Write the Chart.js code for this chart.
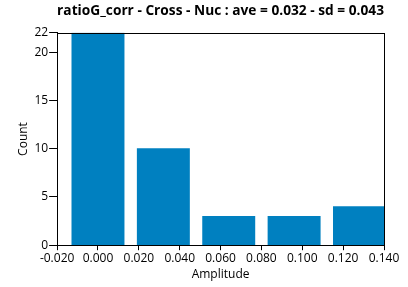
<!DOCTYPE html>
<html>
<head>
<meta charset="utf-8">
<script src="https://cdn.jsdelivr.net/npm/chart.js@4"></script>
<style>
    html, body { margin: 0; padding: 0; background: #fff; }
</style>
</head>
<body>
<canvas id="chart" width="408" height="287"></canvas>
<script>
const binCenters = [0.000, 0.032, 0.064, 0.096, 0.128],
    binWidth = 0.032,
    counts = [22, 10, 3, 3, 4],
    xTicks = [-0.020, 0.000, 0.020, 0.040, 0.060, 0.080, 0.100, 0.120, 0.140],
    yTicks = [0, 5, 10, 15, 20, 22];

const font = "'Open Sans', 'DejaVu Sans', sans-serif";

// box round the plot area (top and right sides too)
const frame = {
    id: "frame",
    afterDatasetsDraw(chart) {
        const { ctx, chartArea: a } = chart;
        ctx.save();
        ctx.strokeStyle = "#000";
        ctx.lineWidth = 1;
        ctx.strokeRect(Math.round(a.left) + 0.5, Math.round(a.top) + 0.5,
            Math.round(a.right - a.left), Math.round(a.bottom - a.top));
        ctx.restore();
    }
};

// bar width = 80% of a bin, measured on the x scale
function barWidth(ctx) {
    const s = ctx.chart.scales.x;
    if (!s) return undefined;
    return Math.abs(s.getPixelForValue(binWidth * 0.8) - s.getPixelForValue(0));
}

new Chart(document.getElementById("chart"), {
    type: "bar",
    data: {
        datasets: [{
            data: binCenters.map((x, i) => ({ x: x, y: counts[i] })),
            backgroundColor: "rgb(0, 128, 192)",
            borderWidth: 0,
            barThickness: barWidth,
        }]
    },
    options: {
        responsive: false,
        animation: false,
        layout: { padding: { left: 16, right: 24, top: 3, bottom: 5 } },
        plugins: {
            legend: { display: false },
            tooltip: { enabled: false },
            title: {
                display: true,
                fullSize: false,
                text: "ratioG_corr - Cross - Nuc : ave = 0.032 - sd = 0.043",
                color: "#000",
                font: { family: font, size: 14, weight: "bold" },
                padding: { top: 0, bottom: 13 }
            }
        },
        scales: {
            x: {
                type: "linear",
                offset: false,
                min: -0.02,
                max: 0.14,
                afterBuildTicks: axis => { axis.ticks = xTicks.map(v => ({ value: v })); },
                ticks: {
                    color: "#000",
                    font: { family: font, size: 12 },
                    maxRotation: 0,
                    autoSkip: false,
                    padding: 1,
                    callback: v => (+v).toFixed(3)
                },
                grid: { drawOnChartArea: false, offset: false, color: "#000", tickLength: 5 },
                border: { display: true, color: "#000" },
                title: {
                    display: true,
                    text: "Amplitude",
                    color: "#000",
                    font: { family: font, size: 12 },
                    padding: { top: 1, bottom: 0 }
                }
            },
            y: {
                min: 0,
                max: 22,
                afterBuildTicks: axis => { axis.ticks = yTicks.map(v => ({ value: v })); },
                ticks: {
                    color: "#000",
                    font: { family: font, size: 12 },
                    autoSkip: false,
                    padding: 1
                },
                grid: { drawOnChartArea: false, color: "#000", tickLength: 8 },
                border: { display: true, color: "#000" },
                title: {
                    display: true,
                    text: "Count",
                    color: "#000",
                    font: { family: font, size: 12 },
                    padding: { top: 0, bottom: 3 }
                }
            }
        }
    },
    plugins: [frame]
});
</script>
</body>
</html>
